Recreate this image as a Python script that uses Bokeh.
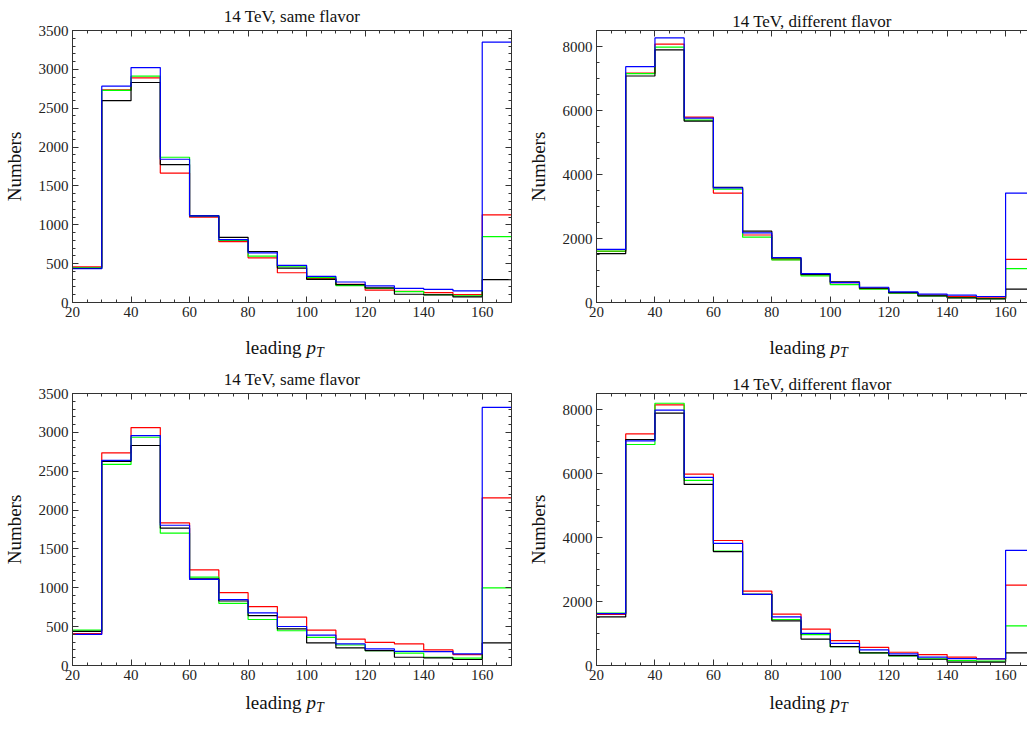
from bokeh.plotting import figure
from bokeh.models import Range1d, LinearAxis, SingleIntervalTicker, Title
from bokeh.layouts import column, row
from bokeh.core.properties import value
from bokeh.embed import file_html
from bokeh.resources import INLINE

# ---------------- data ----------------
edges = [20, 30, 40, 50, 60, 70, 80, 90, 100, 110, 120, 130, 140, 150, 160, 170]

title_same = "14 TeV, same flavor"
title_diff = "14 TeV, different flavor"
y_label = "Numbers"
x_label_word = "leading"
x_label_sym = "p"
x_label_sub = "T"

# top-left: same flavor
sf1_red = [460, 2737, 2891, 1665, 1098, 783, 575, 383, 306, 234, 158, 145, 128, 102, 1128]
sf1_green = [447, 2729, 2912, 1869, 1115, 800, 596, 460, 319, 217, 183, 140, 102, 85, 847]
sf1_black = [438, 2597, 2831, 1775, 1115, 839, 656, 443, 298, 230, 187, 106, 98, 72, 294]
sf1_blue = [434, 2784, 3023, 1843, 1115, 809, 639, 477, 336, 264, 213, 183, 170, 149, 3350]

# top-right: different flavor
df1_red = [1600, 7171, 8073, 5793, 3420, 2110, 1340, 860, 570, 435, 300, 228, 187, 145, 1347]
df1_green = [1604, 7150, 7979, 5699, 3544, 2041, 1330, 829, 560, 415, 290, 207, 155, 124, 1057]
df1_black = [1530, 7078, 7896, 5668, 3596, 2228, 1385, 881, 642, 450, 311, 210, 145, 114, 415]
df1_blue = [1660, 7368, 8269, 5762, 3585, 2176, 1406, 902, 622, 477, 332, 259, 228, 187, 3420]

# bottom-left: same flavor
sf2_red = [410, 2737, 3061, 1835, 1230, 937, 758, 622, 455, 340, 298, 277, 200, 140, 2158]
sf2_green = [455, 2588, 2937, 1703, 1137, 800, 592, 447, 362, 264, 192, 158, 106, 94, 1000]
sf2_black = [440, 2627, 2831, 1767, 1115, 830, 643, 470, 290, 226, 192, 106, 98, 77, 290]
sf2_blue = [400, 2640, 2959, 1805, 1107, 847, 677, 502, 392, 277, 213, 183, 179, 149, 3321]

# bottom-right: different flavor
df2_red = [1600, 7237, 8144, 5979, 3907, 2327, 1603, 1138, 776, 569, 414, 341, 259, 207, 2513]
df2_green = [1641, 6907, 8196, 5784, 3577, 2223, 1437, 962, 589, 393, 300, 207, 155, 134, 1241]
df2_black = [1518, 7062, 7887, 5660, 3560, 2223, 1396, 827, 589, 393, 310, 196, 103, 103, 393]
df2_blue = [1620, 7020, 7979, 5876, 3814, 2223, 1520, 1003, 693, 486, 362, 259, 217, 207, 3599]

# ---------------- styling / layout ----------------
FONT = "Liberation Serif"
COLORS = ["#ff0000", "#00ff00", "#000000", "#0000ff"]
AXIS_COLOR = "#333333"
TEXT_COLOR = "#111111"
BORDER_LEFT = 68
FRAME_H = 274
LEFT_W, RIGHT_W = 524, 503


def style_axis(ax, labels=True):
    ax.axis_line_color = AXIS_COLOR
    ax.axis_line_width = 1
    ax.major_tick_line_color = AXIS_COLOR
    ax.minor_tick_line_color = AXIS_COLOR
    ax.major_tick_in = 6
    ax.major_tick_out = 0
    ax.minor_tick_in = 3
    ax.minor_tick_out = 0
    ax.major_label_text_font = FONT
    ax.major_label_text_color = "#222222"
    if labels:
        ax.major_label_text_font_size = "15px"
        ax.major_label_standoff = 4
    else:
        ax.major_label_text_font_size = "0px"
        ax.major_label_standoff = 0
        ax.major_label_overrides = {v: "" for v in range(0, 9001, 10)}


def make_panel(series, title, title_standoff, title_offset, ymax, yint, yminor,
               width, xmax, top_b, bot_b, right_b, right_axis):
    height = top_b + FRAME_H + bot_b
    p = figure(width=width, height=height,
               x_range=Range1d(20, xmax), y_range=Range1d(0, ymax),
               x_axis_type=None, y_axis_type=None,
               output_backend="svg", toolbar_location=None,
               min_border_left=BORDER_LEFT, min_border_right=right_b,
               min_border_top=top_b, min_border_bottom=bot_b)
    p.outline_line_color = None
    p.background_fill_color = "white"
    p.border_fill_color = "white"

    p.title = Title(text=title, align="center", offset=title_offset,
                    text_font=FONT, text_font_size="17px", text_font_style="normal",
                    text_color=TEXT_COLOR, standoff=title_standoff)

    bottom = LinearAxis(ticker=SingleIntervalTicker(interval=20, num_minor_ticks=4))
    style_axis(bottom)
    p.add_layout(bottom, "below")

    top = LinearAxis(ticker=SingleIntervalTicker(interval=20, num_minor_ticks=4))
    style_axis(top, labels=False)
    p.add_layout(top, "above")

    left = LinearAxis(ticker=SingleIntervalTicker(interval=yint, num_minor_ticks=yminor))
    style_axis(left)
    left.axis_label = y_label
    left.axis_label_text_font = FONT
    left.axis_label_text_font_size = "19px"
    left.axis_label_text_font_style = "normal"
    left.axis_label_text_color = TEXT_COLOR
    left.axis_label_standoff = 11
    p.add_layout(left, "left")

    if right_axis:
        right = LinearAxis(ticker=SingleIntervalTicker(interval=yint, num_minor_ticks=yminor))
        style_axis(right, labels=False)
        p.add_layout(right, "right")

    for vals, col in zip(series, COLORS):
        p.step(x=edges, y=vals + [vals[-1]], mode="after",
               line_color=col, line_width=1.2)
    return p


def xlabel_strip(width, height, yc):
    s = figure(width=width, height=height,
               x_range=Range1d(0, width), y_range=Range1d(height, 0),
               x_axis_type=None, y_axis_type=None,
               output_backend="svg", toolbar_location=None, min_border=0)
    s.outline_line_color = None
    s.background_fill_color = "white"
    s.border_fill_color = "white"
    x0 = BORDER_LEFT
    s.text(x=[x0 + 177], y=[yc], text=[x_label_word], text_align="left",
           text_baseline="middle", text_font=value(FONT),
           text_font_size=value("19px"), text_color=TEXT_COLOR)
    s.text(x=[x0 + 238], y=[yc], text=[x_label_sym], text_align="left",
           text_baseline="middle", text_font=value(FONT), text_font_style="italic",
           text_font_size=value("19px"), text_color=TEXT_COLOR)
    s.text(x=[x0 + 247.5], y=[yc + 5], text=[x_label_sub], text_align="left",
           text_baseline="middle", text_font=value(FONT), text_font_style="italic",
           text_font_size=value("14px"), text_color=TEXT_COLOR)
    return s


p1 = make_panel([sf1_red, sf1_green, sf1_black, sf1_blue], title_same, 9, 0,
                3500, 500, 5, LEFT_W, 170, 28, 24, 13, True)
p2 = make_panel([df1_red, df1_green, df1_black, df1_blue], title_diff, 0, 4,
                8500, 2000, 4, RIGHT_W, 167.5, 28, 24, 0, False)
p3 = make_panel([sf2_red, sf2_green, sf2_black, sf2_blue], title_same, 9, 0,
                3500, 500, 5, LEFT_W, 170, 28, 22, 13, True)
p4 = make_panel([df2_red, df2_green, df2_black, df2_blue], title_diff, 0, 4,
                8500, 2000, 4, RIGHT_W, 167.5, 28, 22, 0, False)

s1 = xlabel_strip(LEFT_W, 37, 21)
s2 = xlabel_strip(RIGHT_W, 37, 21)
s3 = xlabel_strip(LEFT_W, 28, 15)
s4 = xlabel_strip(RIGHT_W, 28, 15)

layout = column(row(p1, p2), row(s1, s2), row(p3, p4), row(s3, s4))

open("out.html", "w").write(file_html(layout, INLINE))
